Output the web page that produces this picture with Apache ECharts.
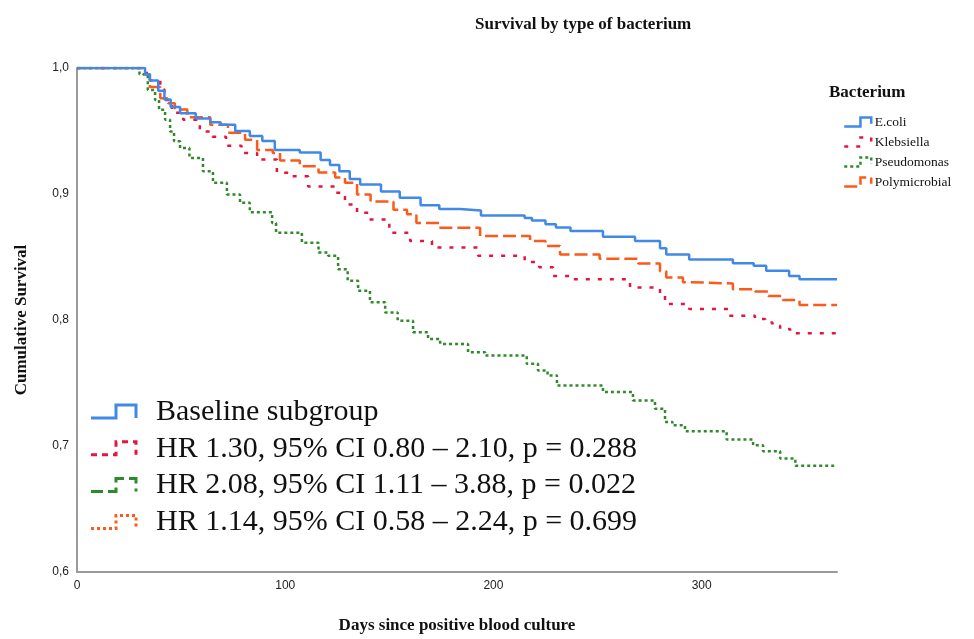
<!DOCTYPE html>
<html>
<head>
<meta charset="utf-8">
<title>Survival by type of bacterium</title>
<script src="https://cdn.jsdelivr.net/npm/echarts@6/dist/echarts.min.js"></script>
<style>
  html, body { margin: 0; padding: 0; background: #fff; }
  #chart { width: 974px; height: 639px; }
</style>
</head>
<body>
<div id="chart"></div>
<script>
// [days, cumulative survival]
var ecoli = [
  [0, 1], [32.7, 0.995], [35, 0.99], [39, 0.982], [42, 0.975], [45, 0.969], [49.5, 0.964],
  [57, 0.96], [64, 0.957], [69, 0.955], [76, 0.95], [83, 0.946], [89, 0.942], [95, 0.935],
  [107, 0.933], [117, 0.927], [121.5, 0.923], [126, 0.918], [131, 0.912], [136, 0.9075],
  [146, 0.902], [155, 0.897], [165, 0.891], [174, 0.888], [184, 0.887], [194, 0.883],
  [215, 0.881], [218.5, 0.879], [225, 0.876], [230, 0.8735], [237, 0.8706], [252.6, 0.866],
  [268, 0.8627], [280, 0.857], [283, 0.852], [294, 0.848], [315, 0.845], [325, 0.843],
  [331, 0.839], [342, 0.835], [347, 0.8324], [365, 0.8324]
];
var klebsiella = [
  [0, 1], [31.7, 0.996], [35, 0.99], [40, 0.983], [42, 0.9747], [45.6, 0.9644], [51, 0.959],
  [59, 0.9497], [65, 0.9454], [71.6, 0.9383], [79, 0.9326], [86.5, 0.9273], [96, 0.9168],
  [103, 0.914], [111, 0.906], [124, 0.901], [128.7, 0.8917], [134.5, 0.8851], [140, 0.8798],
  [150, 0.8693], [160, 0.8627], [170.5, 0.8575], [192.6, 0.8509], [215, 0.846], [222, 0.8419],
  [228.6, 0.835], [236.8, 0.8324], [265.6, 0.8258], [280, 0.8206], [282.4, 0.8126],
  [294, 0.8087], [312.7, 0.8034], [325.6, 0.8008], [330.5, 0.798], [334, 0.7955],
  [337.7, 0.7929], [342.5, 0.7895], [365, 0.7895]
];
var pseudomonas = [
  [0, 1], [30, 0.995], [34, 0.9826], [37.5, 0.9747], [39.4, 0.9668], [42.3, 0.959],
  [44.7, 0.9497], [46.6, 0.9418], [49.5, 0.9365], [54, 0.9286], [60.5, 0.918], [65.3, 0.9089],
  [72, 0.8996], [78.3, 0.893], [83, 0.8856], [93.7, 0.877], [95.6, 0.8693], [108, 0.8614],
  [116, 0.8535], [120.6, 0.851], [125.4, 0.8403], [130, 0.8311], [135, 0.8232], [140.7, 0.814],
  [148, 0.806], [154, 0.7995], [161.4, 0.7903], [168.6, 0.785], [174.4, 0.781], [187.8, 0.7745],
  [196, 0.7718], [216, 0.7652], [221.4, 0.76], [226, 0.756], [230.5, 0.748], [252.6, 0.7428],
  [267, 0.7362], [277.6, 0.7296], [282.4, 0.7191], [286, 0.7164], [292, 0.7117], [312, 0.7051],
  [324.7, 0.7006], [329.5, 0.6959], [337.7, 0.6901], [345, 0.6843], [365, 0.6843]
];
var polymicrobial = [
  [0, 1], [31.7, 0.995], [35, 0.985], [40, 0.976], [43.7, 0.972], [47, 0.967], [53, 0.961],
  [64, 0.955], [72.5, 0.9486], [80.7, 0.943], [86.5, 0.935], [94, 0.9326], [97.5, 0.9265],
  [107, 0.922], [116, 0.917], [124, 0.913], [128.7, 0.909], [134.5, 0.8996], [141, 0.894],
  [152, 0.8875], [158.5, 0.884], [163, 0.877], [174, 0.8733], [193.6, 0.8667], [217.6, 0.8627],
  [225, 0.8588], [232, 0.852], [251, 0.8487], [269.5, 0.8448], [280, 0.8387], [283, 0.8337],
  [291, 0.83], [294, 0.829], [315, 0.8245], [325.6, 0.8227], [332, 0.819], [339, 0.8158],
  [347, 0.8119], [365, 0.8119]
];

var bacteria = ["E.coli", "Klebsiella", "Pseudomonas", "Polymicrobial"];
var hrLabels = [
  "Baseline subgroup",
  "HR 1.30, 95% CI 0.80 \u2013 2.10, p = 0.288",
  "HR 2.08, 95% CI 1.11 \u2013 3.88, p = 0.022",
  "HR 1.14, 95% CI 0.58 \u2013 2.24, p = 0.699"
];
var xTicks = [0, 100, 200, 300];

var colors = ["#4189e6", "#e3163f", "#2f8a2a", "#fb5a1b"];
var dashes = [null, [4, 8], [3, 3], [13, 5]];
var stepIcon = "path://M0,10L18,10L18,0L30,0L30,7";
var serif = "'Liberation Serif', 'Times New Roman', serif";

var chart = echarts.init(document.getElementById("chart"));

function makeSeries(name, data, i) {
  return {
    name: name,
    type: "line",
    step: "end",
    symbol: "none",
    data: data,
    color: colors[i],
    lineStyle: { color: colors[i], width: 2.5, type: dashes[i] || "solid", cap: "butt" },
    silent: true,
    animation: false,
    z: 4 - i
  };
}

// bottom-left annotation, icons drawn with their own dash styles
var hrDashes = [null, [6, 5], [12, 5], [3, 3]];
var hrGraphic = [];
hrLabels.forEach(function (txt, i) {
  var cy = 412 + i * 36.8;
  hrGraphic.push({
    type: "polyline",
    shape: { points: [[91, cy + 6], [116, cy + 6], [116, cy - 7], [136, cy - 7], [136, cy + 6]] },
    style: { stroke: colors[i], lineWidth: 3, fill: null, lineDash: hrDashes[i] }
  });
  hrGraphic.push({
    type: "text",
    x: 156,
    y: cy,
    style: {
      text: txt,
      fill: "#111",
      font: "30px " + serif,
      textVerticalAlign: "middle"
    }
  });
});

chart.setOption({
  animation: false,
  title: [
    {
      text: "Survival by type of bacterium",
      left: 470,
      top: 11,
      textStyle: { fontFamily: serif, fontWeight: "bold", fontSize: 17, color: "#111" }
    },
    {
      text: "Bacterium",
      left: 824,
      top: 79,
      textStyle: { fontFamily: serif, fontWeight: "bold", fontSize: 17, color: "#111" }
    }
  ],
  legend: {
    orient: "vertical",
    left: 838,
    top: 110,
    itemWidth: 32,
    itemHeight: 9,
    itemGap: 6,
    selectedMode: false,
    textStyle: { fontFamily: serif, fontSize: 13.5, color: "#111", padding: [0, 0, 0, -4] },
    data: bacteria.map(function (name, i) {
      return {
        name: name,
        icon: stepIcon,
        itemStyle: {
          color: "rgba(0,0,0,0)",
          borderColor: colors[i],
          borderWidth: 2.5,
          borderType: dashes[i] || "solid"
        }
      };
    })
  },
  grid: { left: 77, right: 137, top: 68, bottom: 65 },
  xAxis: {
    type: "value",
    min: 0,
    max: 365,
    interval: 100,
    name: "Days since positive blood culture",
    nameLocation: "middle",
    nameGap: 45,
    nameTextStyle: { fontFamily: serif, fontWeight: "bold", fontSize: 17, color: "#111" },
    axisLine: { lineStyle: { color: "#9a9a9a", width: 2 } },
    axisTick: { show: false },
    splitLine: { show: false },
    axisLabel: {
      showMaxLabel: false,
      margin: 8,
      color: "#222",
      fontSize: 12,
      fontFamily: "'Liberation Sans', Arial, sans-serif",
      formatter: function (v) { return xTicks.indexOf(v) >= 0 ? String(v) : ""; }
    }
  },
  yAxis: {
    type: "value",
    min: 0.6,
    max: 1.0,
    interval: 0.1,
    name: "Cumulative Survival",
    nameLocation: "middle",
    nameGap: 47,
    nameTextStyle: { fontFamily: serif, fontWeight: "bold", fontSize: 17, color: "#111" },
    axisLine: { show: true, lineStyle: { color: "#9a9a9a", width: 2 } },
    axisTick: { show: false },
    splitLine: { show: false },
    axisLabel: {
      margin: 8,
      color: "#222",
      fontSize: 12,
      fontFamily: "'Liberation Sans', Arial, sans-serif",
      formatter: function (v) { return v.toFixed(1).replace(".", ","); }
    }
  },
  graphic: hrGraphic,
  series: [
    makeSeries(bacteria[0], ecoli, 0),
    makeSeries(bacteria[1], klebsiella, 1),
    makeSeries(bacteria[2], pseudomonas, 2),
    makeSeries(bacteria[3], polymicrobial, 3)
  ]
});
</script>
</body>
</html>
